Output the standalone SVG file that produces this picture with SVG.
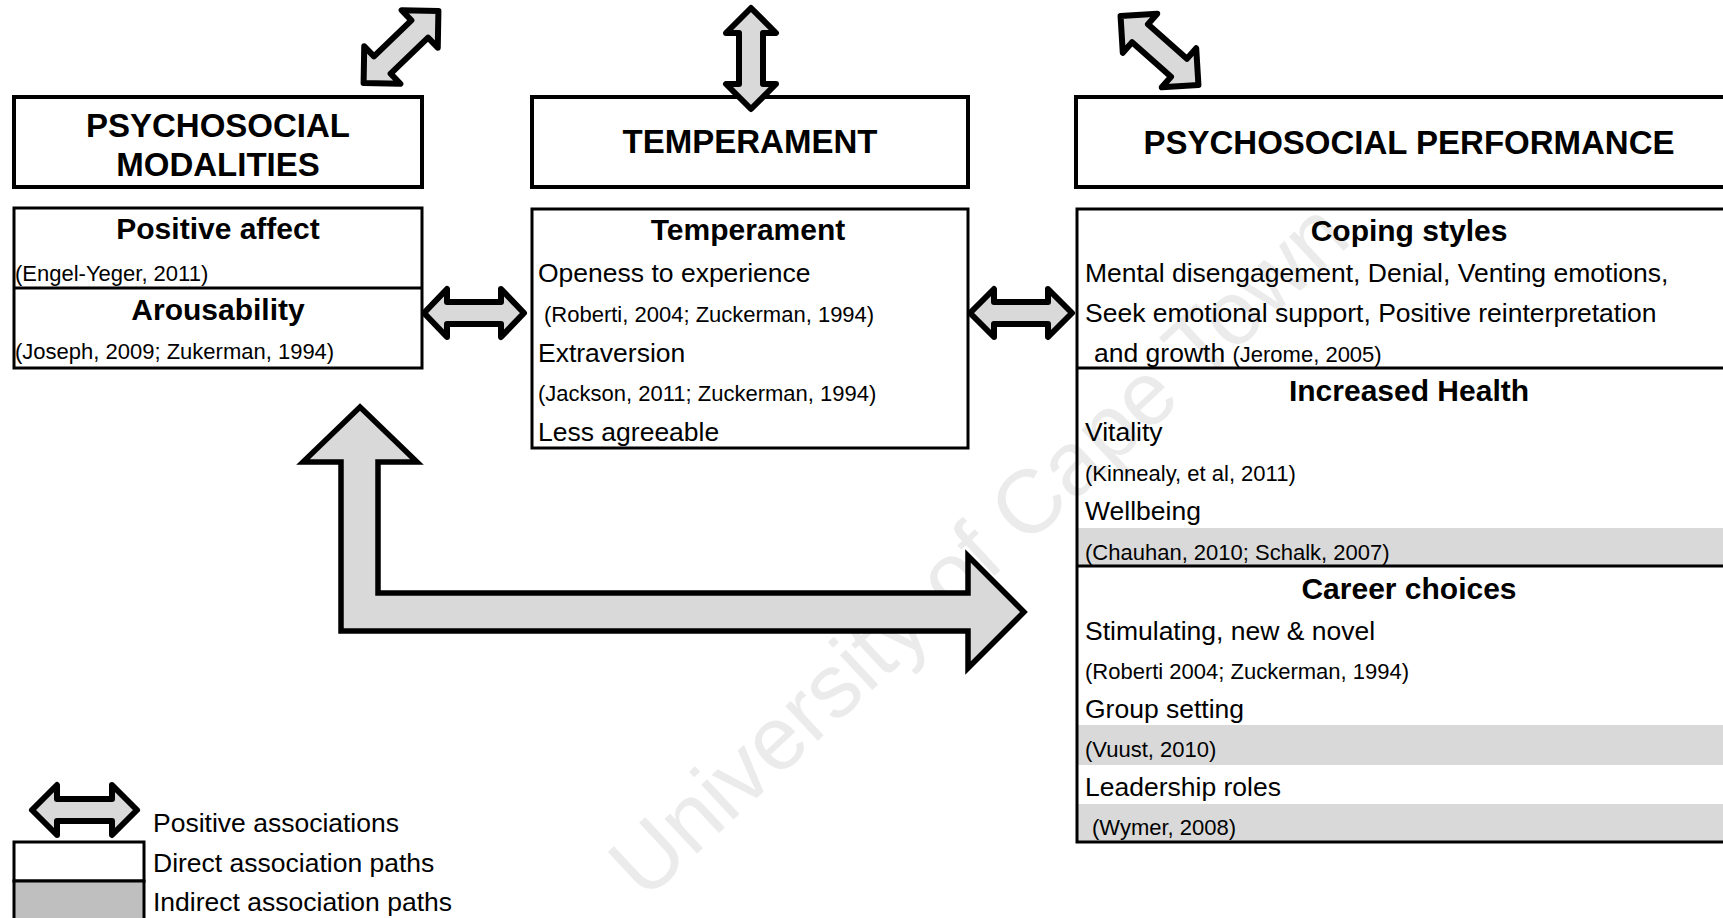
<svg xmlns="http://www.w3.org/2000/svg" width="1723" height="918" viewBox="0 0 1723 918">
<style>
text{font-family:"Liberation Sans",Arial,sans-serif;fill:#000}
.h{font-size:33px;font-weight:bold;text-anchor:middle}
.s{font-size:30px;font-weight:bold;text-anchor:middle}
.b{font-size:26.5px}
.c{font-size:22px}
.hb{fill:none;stroke:#000;stroke-width:4}
.cb{fill:none;stroke:#000;stroke-width:3}
.dv{stroke:#000;stroke-width:3}
.band{fill:#d9d9d9}
.arr{fill:#d9d9d9;stroke:#000;stroke-width:6;stroke-linejoin:round}
.big{fill:#d9d9d9;stroke:#000;stroke-width:5.5;stroke-linejoin:miter}
.wm{font-size:90px;fill:#ebebeb}
</style>
<defs>
<path id="dbl" d="M-52,0 L-26,-26 L-26,-12 L26,-12 L26,-26 L52,0 L26,26 L26,12 L-26,12 L-26,26 Z"/>
</defs>
<rect width="1723" height="918" fill="#fff"/>
<text class="wm" transform="translate(645,902) rotate(-43)">University of Cape Town</text>

<g id="modalities-header">
<rect class="hb" x="14" y="97" width="408" height="90"/>
<text class="h" x="218" y="137">PSYCHOSOCIAL</text>
<text class="h" x="218" y="176">MODALITIES</text>
</g>
<g id="modalities">
<rect class="cb" x="14" y="208" width="408" height="160"/>
<line class="dv" x1="14" y1="288" x2="422" y2="288"/>
<text class="s" x="218" y="239">Positive affect</text>
<text class="c" x="15" y="281">(Engel-Yeger, 2011)</text>
<text class="s" x="218" y="320">Arousability</text>
<text class="c" x="15" y="359">(Joseph, 2009; Zukerman, 1994)</text>
</g>

<g id="temperament-header">
<rect class="hb" x="532" y="97" width="436" height="90"/>
<text class="h" x="750" y="153">TEMPERAMENT</text>
</g>
<g id="temperament">
<rect class="cb" x="532" y="209" width="436" height="239"/>
<text class="s" x="748" y="240">Temperament</text>
<text class="b" x="538" y="282">Openess to experience</text>
<text class="c" x="544" y="322">(Roberti, 2004; Zuckerman, 1994)</text>
<text class="b" x="538" y="362">Extraversion</text>
<text class="c" x="538" y="401">(Jackson, 2011; Zuckerman, 1994)</text>
<text class="b" x="538" y="441">Less agreeable</text>
</g>

<g id="performance-header">
<rect class="hb" x="1076" y="97" width="680" height="90"/>
<text class="h" x="1409" y="154">PSYCHOSOCIAL PERFORMANCE</text>
</g>
<g id="performance">
<rect class="band" x="1077" y="528" width="680" height="38"/>
<rect class="band" x="1077" y="725" width="680" height="40"/>
<rect class="band" x="1077" y="804" width="680" height="38"/>
<rect class="cb" x="1077" y="209" width="680" height="633"/>
<line class="dv" x1="1077" y1="368" x2="1723" y2="368"/>
<line class="dv" x1="1077" y1="566" x2="1723" y2="566"/>
<text class="s" x="1409" y="241">Coping styles</text>
<text class="b" x="1085" y="282">Mental disengagement, Denial, Venting emotions,</text>
<text class="b" x="1085" y="322">Seek emotional support, Positive reinterpretation</text>
<text class="b" x="1094" y="362">and growth <tspan class="c">(Jerome, 2005)</tspan></text>
<text class="s" x="1409" y="401">Increased Health</text>
<text class="b" x="1085" y="441">Vitality</text>
<text class="c" x="1085" y="481">(Kinnealy, et al, 2011)</text>
<text class="b" x="1085" y="520">Wellbeing</text>
<text class="c" x="1085" y="560">(Chauhan, 2010; Schalk, 2007)</text>
<text class="s" x="1409" y="599">Career choices</text>
<text class="b" x="1085" y="640">Stimulating, new &amp; novel</text>
<text class="c" x="1085" y="679">(Roberti 2004; Zuckerman, 1994)</text>
<text class="b" x="1085" y="718">Group setting</text>
<text class="c" x="1085" y="757">(Vuust, 2010)</text>
<text class="b" x="1085" y="796">Leadership roles</text>
<text class="c" x="1092" y="835">(Wymer, 2008)</text>
</g>

<g id="connectors">
<use href="#dbl" class="arr" transform="translate(401,47) rotate(-44)"/>
<path class="arr" d="M751,8 L776,33 L763,33 L763,84 L776,84 L751,109 L726,84 L739,84 L739,33 L726,33 Z"/>
<use href="#dbl" class="arr" transform="translate(1159.5,50.5) rotate(41.5)"/>
<path class="arr" d="M424,313 L447,289 L447,302 L501,302 L501,289 L524,313 L501,337 L501,324 L447,324 L447,337 Z"/>
<path class="arr" d="M970,313 L994,289 L994,302 L1048,302 L1048,289 L1072,313 L1048,337 L1048,324 L994,324 L994,337 Z"/>
<path class="big" d="M360,407 L417,462 L378,462 L378,593 L968,593 L968,556 L1024,612 L968,668 L968,631 L341,631 L341,462 L303,462 Z"/>
</g>

<g id="legend">
<path class="arr" d="M32,810 L57,785 L57,799 L112,799 L112,785 L137,810 L112,835 L112,821 L57,821 L57,835 Z"/>
<rect x="14" y="842" width="130" height="39" fill="#fff" stroke="#000" stroke-width="3"/>
<rect x="14" y="881" width="130" height="44" fill="#bfbfbf" stroke="#000" stroke-width="3"/>
<text class="b" x="153" y="832">Positive associations</text>
<text class="b" x="153" y="872">Direct association paths</text>
<text class="b" x="153" y="911">Indirect association paths</text>
</g>
</svg>
